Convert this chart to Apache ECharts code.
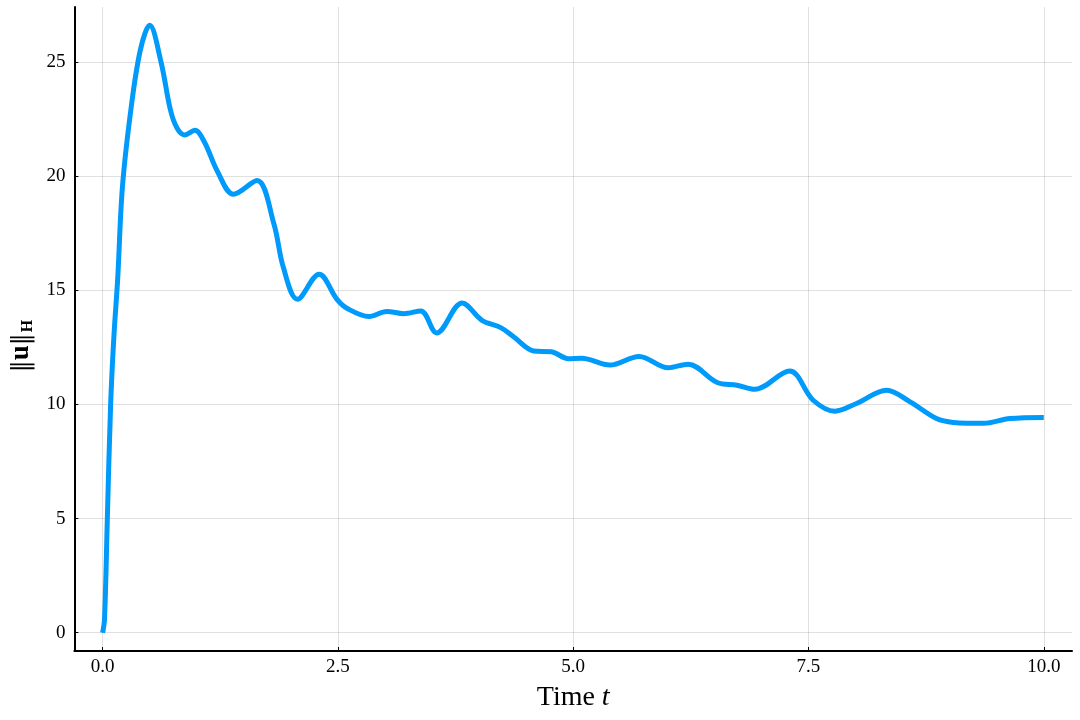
<!DOCTYPE html>
<html>
<head>
<meta charset="utf-8">
<script src="https://cdn.jsdelivr.net/npm/echarts@6/dist/echarts.min.js"></script>
<style>
    html, body { margin: 0; padding: 0; background: #fff; }
    #chart { width: 1080px; height: 720px; }
</style>
</head>
<body>
<div id="chart"></div>
<script>
    // time samples and norm values
    const timeT = [0, 0.02, 0.05, 0.085, 0.12, 0.16, 0.21, 0.30, 0.40, 0.50, 0.62, 0.72, 0.79, 0.87, 0.98,
        1.08, 1.22, 1.39, 1.64, 1.82, 1.92, 2.07, 2.30, 2.49, 2.60, 2.83, 3.02, 3.20, 3.38, 3.55, 3.82,
        4.03, 4.23, 4.37, 4.58, 4.77, 4.95, 5.09, 5.39, 5.70, 6.01, 6.22, 6.53, 6.74, 6.93, 7.30, 7.55,
        7.78, 8.01, 8.33, 8.58, 8.86, 9.04, 9.36, 9.64, 10.0]
    const normU = [0, 0.6, 5.0, 10.0, 13.0, 15.5, 19.5, 22.9, 25.5, 26.6, 25.0, 22.9, 22.1, 21.8, 22.0,
        21.5, 20.2, 19.2, 19.8, 17.9, 16.0, 14.6, 15.7, 14.6, 14.2, 13.85, 14.07, 13.97, 14.09, 13.13, 14.44,
        13.68, 13.36, 12.95, 12.34, 12.30, 12.0, 12.02, 11.72, 12.1, 11.6, 11.76, 10.96, 10.84, 10.66, 11.46, 10.18,
        9.70, 10.04, 10.62, 10.11, 9.38, 9.21, 9.17, 9.38, 9.43]

    const xTicks = [0, 2.5, 5, 7.5, 10]
    const yTicks = [0, 5, 10, 15, 20, 25]

    const serif = 'Liberation Serif'
    const chart = echarts.init(document.getElementById('chart'))

    const gridLines = xTicks.map(v => ({ xAxis: v })).concat(yTicks.map(v => ({ yAxis: v })))

    chart.setOption({
        animation: false,
        grid: { left: 74, right: 8, top: 7, bottom: 69 },
        xAxis: {
            type: 'value',
            min: -0.3,
            max: 10.3,
            name: '{n|Time }{i|t}',
            nameLocation: 'middle',
            nameGap: 33,
            nameTextStyle: {
                rich: {
                    n: { fontFamily: serif, fontSize: 28, color: '#000' },
                    i: { fontFamily: serif, fontSize: 28, fontStyle: 'italic', color: '#000' }
                }
            },
            axisLine: { show: true, onZero: false, lineStyle: { color: '#000', width: 2 } },
            axisTick: { show: true, inside: true, length: 4, customValues: xTicks, lineStyle: { color: '#000' } },
            axisLabel: {
                customValues: xTicks,
                formatter: v => v.toFixed(1),
                fontFamily: serif, fontSize: 19, color: '#000', margin: 7
            },
            splitLine: { show: false }
        },
        yAxis: {
            type: 'value',
            min: -0.8,
            max: 27.4,
            name: '{n|‖}{b|u}{n|‖}{s|H}',
            nameLocation: 'middle',
            nameGap: 38,
            nameRotate: 90,
            nameTextStyle: {
                padding: [0, 34, 0, 0],
                rich: {
                    n: { fontFamily: 'DejaVu Serif', fontSize: 24, color: '#000' },
                    b: { fontFamily: serif, fontSize: 27, fontWeight: 'bold', color: '#000' },
                    s: { fontFamily: serif, fontSize: 16, fontWeight: 'bold', color: '#000', verticalAlign: 'bottom', padding: [12, 0, 0, 1] }
                }
            },
            axisLine: { show: true, onZero: false, lineStyle: { color: '#000', width: 2 } },
            axisTick: { show: true, inside: true, length: 4, customValues: yTicks, lineStyle: { color: '#000' } },
            axisLabel: {
                customValues: yTicks,
                fontFamily: serif, fontSize: 19, color: '#000', margin: 9
            },
            splitLine: { show: false }
        },
        series: [{
            type: 'line',
            data: timeT.map((t, i) => [t, normU[i]]),
            showSymbol: false,
            smooth: 0.35,
            lineStyle: { color: '#009AFA', width: 5 },
            markLine: {
                silent: true,
                symbol: 'none',
                label: { show: false },
                lineStyle: { color: 'rgba(0,0,0,0.12)', width: 1, type: 'solid' },
                data: gridLines,
                z: 1
            }
        }]
    })
</script>
</body>
</html>
